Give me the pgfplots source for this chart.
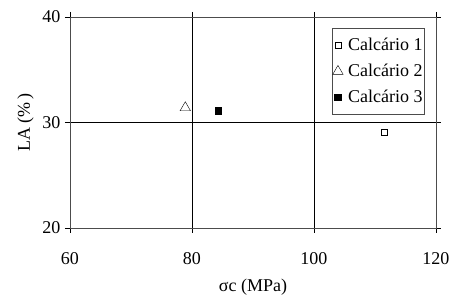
\documentclass[border=0pt]{standalone}
\usepackage{pgfplots}
\pgfplotsset{compat=1.18}
\usepackage{fontspec}
\setmainfont{Liberation Serif}
\pgfplotsset{lgd/.style={legend image code/.code={\draw[mark repeat=2,mark phase=2,##1] plot coordinates {(0cm,0cm) (0.15cm,0cm) (0.3cm,0cm)};}}}
\begin{document}
\begin{tikzpicture}[x=1pt,y=1pt]
\path[use as bounding box] (-70,-74) rectangle (381,228);
\begin{axis}[
  at={(0,0)}, anchor=south west,
  scale only axis, width=366pt, height=211pt,
  xmin=60, xmax=120, ymin=20, ymax=40,
  xtick={60,80,100,120}, ytick={20,30,40},
  grid=major, major grid style={black, line width=0.7pt},
  axis line style={black!70, line width=0.8pt},
  tick style={black, line width=0.7pt},
  tick align=outside, major tick length=5pt,
  font=\fontsize{18}{21}\selectfont,
  /pgf/number format/assume math mode=true,
  xticklabel style={yshift=-16pt},
  yticklabel style={xshift=-1pt},
  xlabel={σc (MPa)}, ylabel={LA (\%\,)},
  xlabel style={yshift=-7pt},
  ylabel style={yshift=2pt},
  legend style={at={(0.970,0.948)}, anchor=north east, draw=black!70, line width=0.8pt,
    font=\fontsize{18}{21}\selectfont, inner xsep=0pt, inner ysep=8pt, row sep=8pt,
    nodes={inner xsep=2pt}, column sep=3pt},
  legend cell align=left,
]
\addplot[only marks, lgd, mark=square, mark size=3pt, black, thin] coordinates {(111.5,29.05)};
\addlegendentry{Calcário 1}
\addplot[only marks, lgd, mark=triangle, mark size=6pt, black, thin] coordinates {(78.9,31.4)};
\addlegendentry{Calcário 2}
\addplot[only marks, lgd, mark=square*, mark size=3.3pt, black] coordinates {(84.3,31.1)};
\addlegendentry{Calcário 3}
\end{axis}
\end{tikzpicture}
\end{document}
